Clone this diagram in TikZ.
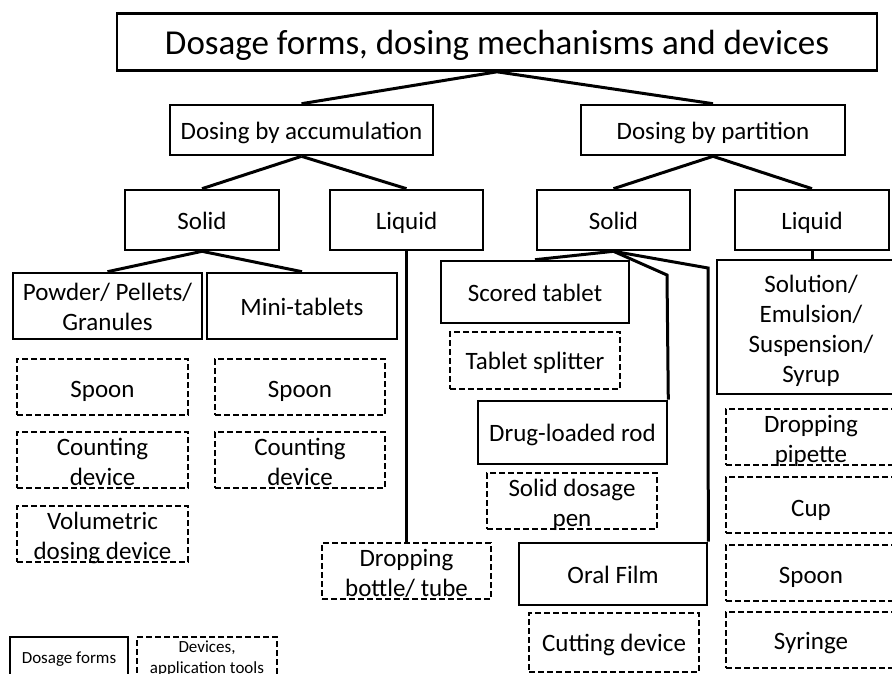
\documentclass[tikz,border=0pt]{standalone}
\usepackage{fontspec}
\setmainfont{Carlito}
\newcommand{\mainf}{\fontsize{25}{30}\selectfont}
\newcommand{\titlef}{\fontsize{35}{42}\selectfont}
\newcommand{\legf}{\fontsize{17}{21}\selectfont}
\newcommand{\bstrut}{\rule[-0.24em]{0pt}{1.2em}}
\begin{document}
\begin{tikzpicture}[x=1pt,y=-1pt,
  box/.style={draw, line width=2.6pt, inner sep=0pt},
  dbox/.style={box, line width=2.2pt, dash pattern=on 6pt off 3pt},
  lbl/.style={inner sep=0pt, align=center, font=\mainf,
    execute at begin node=\bstrut, execute at end node=\bstrut},
  ml/.style={lbl, yshift=-5pt},
  tl/.style={lbl, font=\titlef},
  ll/.style={lbl, font=\legf},
  conn/.style={line width=3pt, line join=miter}]
\clip (0,0) rectangle (892,673);
\fill[white] (0,0) rectangle (892,673);
% level 0 and 1
\node[box, minimum width=760pt, minimum height=57pt, label={[tl]center:{Dosage forms, dosing mechanisms and devices}}] (title) at (497,42) {};
\node[box, minimum width=263pt, minimum height=50pt, label={[lbl]center:Dosing by accumulation}] (acc) at (301.5,130) {};
\node[box, minimum width=264pt, minimum height=50pt, label={[lbl]center:Dosing by partition}] (par) at (713,130) {};
% level 2
\node[box, minimum width=154pt, minimum height=60pt, label={[lbl]center:Solid}] (sL) at (202,220) {};
\node[box, minimum width=153pt, minimum height=60pt, label={[lbl]center:Liquid}] (lL) at (406.5,220) {};
\node[box, minimum width=153pt, minimum height=60pt, label={[lbl]center:Solid}] (sR) at (613.5,220) {};
\node[box, minimum width=154pt, minimum height=60pt, label={[lbl]center:Liquid}] (lR) at (812,220) {};
% dosage forms
\node[box, minimum width=189pt, minimum height=66pt, label={[ml, yshift=1pt]center:{Powder/ Pellets/\\Granules}}] (pow) at (107.5,306) {};
\node[box, minimum width=190pt, minimum height=66pt, label={[lbl]center:Mini-tablets}] (mini) at (302,306) {};
\node[box, minimum width=188pt, minimum height=62pt, label={[lbl]center:Scored tablet}] (scored) at (535,292) {};
\node[box, minimum width=188pt, minimum height=134pt, label={[ml]center:{Solution/\\Emulsion/\\Suspension/\\Syrup}}] (sol) at (811,327) {};
\node[box, minimum width=189pt, minimum height=63pt, label={[lbl]center:Drug-loaded rod}] (rod) at (572.5,432.5) {};
\node[box, minimum width=188pt, minimum height=62pt, label={[lbl]center:Oral Film}] (film) at (613,574) {};
% devices
\node[dbox, minimum width=171pt, minimum height=56pt, label={[lbl, yshift=-1pt]center:Spoon}] (spoonA) at (102.5,387) {};
\node[dbox, minimum width=170pt, minimum height=56pt, label={[lbl, yshift=-1pt]center:Spoon}] (spoonB) at (300,387) {};
\node[dbox, minimum width=171pt, minimum height=56pt, label={[ml]center:{Counting\\device}}] (countA) at (102.5,460) {};
\node[dbox, minimum width=170pt, minimum height=56pt, label={[ml]center:{Counting\\device}}] (countB) at (300,460) {};
\node[dbox, minimum width=171pt, minimum height=56pt, label={[ml]center:{Volumetric\\dosing device}}] (vol) at (102.5,534) {};
\node[dbox, minimum width=170pt, minimum height=57pt, label={[lbl]center:Tablet splitter}] (split) at (535,360.5) {};
\node[dbox, minimum width=170pt, minimum height=56pt, label={[ml]center:{Solid dosage\\pen}}] (pen) at (572,501) {};
\node[dbox, minimum width=169pt, minimum height=56pt, label={[ml]center:{Dropping\\bottle/ tube}}] (bottle) at (406.5,571) {};
\node[dbox, minimum width=170pt, minimum height=59pt, label={[lbl]center:Cutting device}] (cut) at (614,642.5) {};
\node[dbox, minimum width=170pt, minimum height=56pt, label={[ml]center:{Dropping\\pipette}}] (pip) at (811,437) {};
\node[dbox, minimum width=170pt, minimum height=56pt, label={[lbl, yshift=-2pt]center:Cup}] (cup) at (811,505) {};
\node[dbox, minimum width=170pt, minimum height=56pt, label={[lbl, yshift=-1pt]center:Spoon}] (spoonC) at (811,573) {};
\node[dbox, minimum width=170pt, minimum height=56pt, label={[lbl]center:Syringe}] (syr) at (811,640) {};
% legend
\node[box, minimum width=118pt, minimum height=41pt, label={[ll]center:Dosage forms}] (legA) at (69,657.5) {};
\node[dbox, minimum width=140pt, minimum height=41pt, label={[ll, yshift=-2pt]center:{Devices,\\application tools}}] (legB) at (207,657.5) {};
% connectors
\draw[conn] (title.south) -- (acc.north);
\draw[conn] (title.south) -- (par.north);
\draw[conn] (acc.south) -- (sL.north);
\draw[conn] (acc.south) -- (lL.north);
\draw[conn] (par.south) -- (sR.north);
\draw[conn] (par.south) -- (lR.north);
\draw[conn] (sL.south) -- (pow.north);
\draw[conn] (sL.south) -- (mini.north);
\draw[conn] (lL.south) -- (bottle.north);
\draw[conn] (lR.south) -- (sol.north -| lR.south);
\draw[conn] (sR.south) -- (scored.north);
\coordinate (k1) at (667,275);
\coordinate (k2) at (708,268);
\draw[conn] (sR.south) -- (k1) -- (rod.north east);
\draw[conn] (sR.south) -- (k2) -- (film.north east);
\end{tikzpicture}
\end{document}
